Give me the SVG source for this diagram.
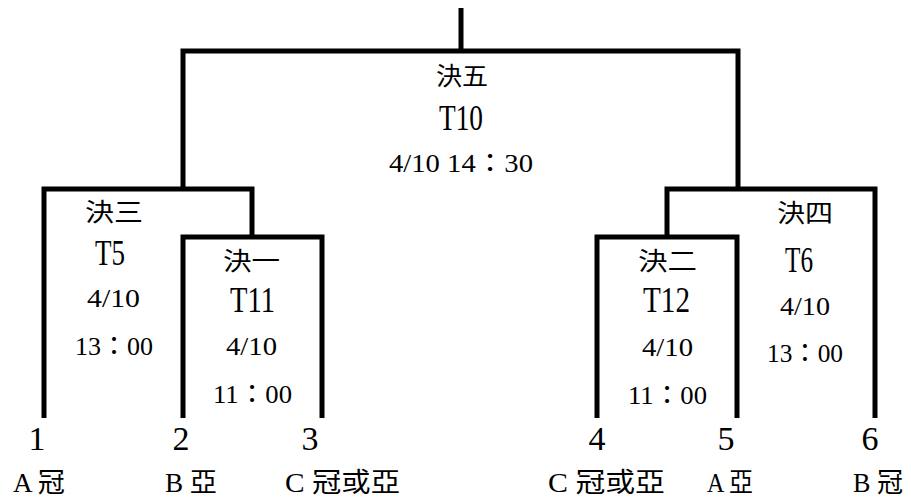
<svg xmlns="http://www.w3.org/2000/svg" width="911" height="502" viewBox="0 0 911 502">
<style>
.ln{fill:none;stroke:#000;stroke-width:5;stroke-linejoin:miter;stroke-linecap:butt}
text{fill:#000;font-family:"Liberation Serif","Noto Sans CJK TC",serif}
.cj{font-size:25px;font-family:"Noto Sans CJK TC","Liberation Serif",serif}
.tn{font-size:35px}
.dt{font-size:26px}
.sd{font-size:34px;text-anchor:middle}
.lb{font-size:27px}
</style>
<rect width="911" height="502" fill="#fff"/>
<g id="connectors">
<path class="ln" d="M461 8V51"/>
<path class="ln" d="M183 189V51H738V189"/>
<path class="ln" d="M44 418V189H252V237"/>
<path class="ln" d="M183 418V237H322V418"/>
<path class="ln" d="M875 418V189H667V237"/>
<path class="ln" d="M597 418V237H737V418"/>
</g>
<g id="match-final">
<text class="cj" x="436" y="85" textLength="52" lengthAdjust="spacingAndGlyphs">決五</text>
<text class="tn" x="439" y="130" textLength="44" lengthAdjust="spacingAndGlyphs">T10</text>
<text class="dt" x="389" y="172" textLength="144" lengthAdjust="spacingAndGlyphs">4/10 14：30</text>
</g>
<g id="match-3">
<text class="cj" x="85" y="221" textLength="58" lengthAdjust="spacingAndGlyphs">決三</text>
<text class="tn" x="95" y="265" textLength="30" lengthAdjust="spacingAndGlyphs">T5</text>
<text class="dt" x="87" y="307" textLength="53" lengthAdjust="spacingAndGlyphs">4/10</text>
<text class="dt" x="75" y="355" textLength="78" lengthAdjust="spacingAndGlyphs">13：00</text>
</g>
<g id="match-1">
<text class="cj" x="223" y="270" textLength="57" lengthAdjust="spacingAndGlyphs">決一</text>
<text class="tn" x="230" y="312" textLength="45" lengthAdjust="spacingAndGlyphs">T11</text>
<text class="dt" x="226" y="355" textLength="51" lengthAdjust="spacingAndGlyphs">4/10</text>
<text class="dt" x="213" y="403" textLength="79" lengthAdjust="spacingAndGlyphs">11：00</text>
</g>
<g id="match-4">
<text class="cj" x="777" y="222" textLength="56" lengthAdjust="spacingAndGlyphs">決四</text>
<text class="tn" x="785" y="272" textLength="28" lengthAdjust="spacingAndGlyphs">T6</text>
<text class="dt" x="780" y="315" textLength="50" lengthAdjust="spacingAndGlyphs">4/10</text>
<text class="dt" x="767" y="362" textLength="76" lengthAdjust="spacingAndGlyphs">13：00</text>
</g>
<g id="match-2">
<text class="cj" x="638" y="270" textLength="59" lengthAdjust="spacingAndGlyphs">決二</text>
<text class="tn" x="643" y="312" textLength="47" lengthAdjust="spacingAndGlyphs">T12</text>
<text class="dt" x="642" y="356" textLength="51" lengthAdjust="spacingAndGlyphs">4/10</text>
<text class="dt" x="628" y="404" textLength="79" lengthAdjust="spacingAndGlyphs">11：00</text>
</g>
<g id="seed-1">
<text class="sd" x="37" y="450">1</text>
<text class="lb" x="13" y="492" textLength="52" lengthAdjust="spacingAndGlyphs">A 冠</text>
</g>
<g id="seed-2">
<text class="sd" x="181" y="450">2</text>
<text class="lb" x="165" y="492" textLength="52" lengthAdjust="spacingAndGlyphs">B 亞</text>
</g>
<g id="seed-3">
<text class="sd" x="310" y="450">3</text>
<text class="lb" x="285" y="492" textLength="115" lengthAdjust="spacingAndGlyphs">C 冠或亞</text>
</g>
<g id="seed-4">
<text class="sd" x="597" y="450">4</text>
<text class="lb" x="548" y="492" textLength="117" lengthAdjust="spacingAndGlyphs">C 冠或亞</text>
</g>
<g id="seed-5">
<text class="sd" x="726" y="450">5</text>
<text class="lb" x="707" y="492" textLength="46" lengthAdjust="spacingAndGlyphs">A 亞</text>
</g>
<g id="seed-6">
<text class="sd" x="870" y="450">6</text>
<text class="lb" x="853" y="492" textLength="50" lengthAdjust="spacingAndGlyphs">B 冠</text>
</g>
</svg>
